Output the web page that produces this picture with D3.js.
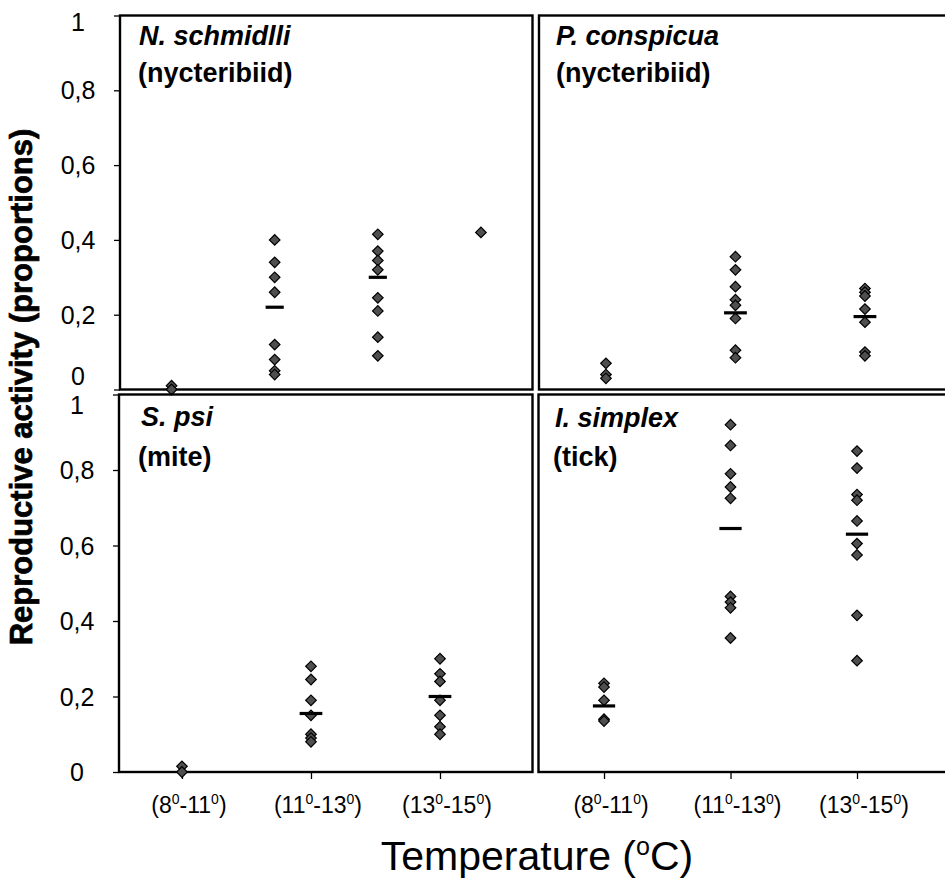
<!DOCTYPE html>
<meta charset="utf-8">
<script src="https://d3js.org/d3.v7.min.js"></script>
<style>
  body { margin: 0; background: #fff; }
  text { font-family: "Liberation Sans", Arial, sans-serif; }
</style>
<div id="chart"></div>
<script>

var w = 945
var h = 880

// temperature classes (lower, upper bound)
var tempRanges = [["8", "11"], ["11", "13"], ["13", "15"]]

var yTicks = [0, 0.2, 0.4, 0.6, 0.8, 1]

// proportions per temperature class
var nSchmidlli = [
  [0.01, 0.0],
  [0.40, 0.34, 0.30, 0.26, 0.12, 0.08, 0.05, 0.04],
  [0.415, 0.37, 0.345, 0.32, 0.245, 0.21, 0.14, 0.09],
  [0.42]
]
var nSchmidlliMeans = [null, 0.22, 0.30, null]

var pConspicua = [
  [0.07, 0.04, 0.03],
  [0.355, 0.32, 0.275, 0.24, 0.225, 0.19, 0.105, 0.085],
  [0.27, 0.26, 0.25, 0.215, 0.18, 0.10, 0.09]
]
var pConspicuaMeans = [null, 0.205, 0.195]

var sPsi = [
  [0.015, 0.0],
  [0.28, 0.245, 0.19, 0.15, 0.10, 0.09, 0.08],
  [0.30, 0.26, 0.24, 0.19, 0.15, 0.12, 0.10]
]
var sPsiMeans = [null, 0.155, 0.20]

var iSimplex = [
  [0.235, 0.225, 0.19, 0.14, 0.135],
  [0.92, 0.865, 0.79, 0.755, 0.725, 0.465, 0.45, 0.435, 0.355],
  [0.85, 0.805, 0.735, 0.72, 0.665, 0.605, 0.575, 0.415, 0.295]
]
var iSimplexMeans = [0.175, 0.645, 0.63]

// panel layout
var panels = [
  {values: nSchmidlli, means: nSchmidlliMeans, species: "N. schmidlli", group: "(nycteribiid)",
   x0: 120, x1: 532.5, y0: 15.5, y1: 389.5, xDom: [0.5, 4.5], left: true, bottom: false,
   t1: [139, 45], t2: [138, 82], shift: {0: -14, 1: 6}},
  {values: pConspicua, means: pConspicuaMeans, species: "P. conspicua", group: "(nycteribiid)",
   x0: 539, x1: 952.5, y0: 15.5, y1: 389.5, xDom: [0.483, 3.676], left: false, bottom: false,
   t1: [556, 45], t2: [556, 82]},
  {values: sPsi, means: sPsiMeans, species: "S. psi", group: "(mite)",
   x0: 119, x1: 532.5, y0: 394.5, y1: 772, xDom: [0.512, 3.717], left: true, bottom: true,
   t1: [141, 426], t2: [138, 466], shift: {1: 10}},
  {values: iSimplex, means: iSimplexMeans, species: "I. simplex", group: "(tick)",
   x0: 538.5, x1: 952, y0: 394.5, y1: 772, xDom: [0.482, 3.751], left: false, bottom: true,
   t1: [555, 427], t2: [553, 466]}
]

var svg = d3.select("#chart")
  .append("svg")
    .attr("width", w)
    .attr("height", h)
    .attr("font-family", "Liberation Sans, Arial, sans-serif")

var diamond = d3.symbol().type(d3.symbolSquare).size(56)

var fmt = d => d === 0 ? "0" : d === 1 ? "1" : String(d).replace(".", ",")

panels.forEach(function(p) {

  var x = d3.scaleLinear().domain(p.xDom).range([p.x0, p.x1])
  var y = d3.scaleLinear().domain([0, 1]).range([p.y1, p.y0])

  var g = svg.append("g")

  if (p.left) {
    var ax = g.append("g")
      .attr("transform", `translate(${p.x0},0)`)
      .call(d3.axisLeft(y).tickValues(yTicks).tickSize(6).tickFormat(fmt))
    ax.select(".domain").remove()
    ax.selectAll("line").attr("stroke", "#000").attr("stroke-width", 1.3)
    ax.selectAll("text")
      .attr("x", -42)
      .attr("text-anchor", "middle")
      .attr("font-size", "25px")
      .attr("font-family", "Liberation Sans, Arial, sans-serif")
      .attr("fill", "#000")
      .attr("dy", d => (p.shift && p.shift[d] != null) ? (p.shift[d] + 8.5) + "px" : "8.5px")
  }

  if (p.bottom) {
    var bx = g.append("g")
      .attr("transform", `translate(0,${p.y1})`)
      .call(d3.axisBottom(x).tickValues([1, 2, 3]).tickSize(7).tickFormat(""))
    bx.select(".domain").remove()
    bx.selectAll("line").attr("stroke", "#000").attr("stroke-width", 1.3)

    var lab = g.selectAll(".xlab")
      .data(tempRanges)
      .join("text")
        .attr("class", "xlab")
        .attr("x", (d, i) => x(i + 1) + 7)
        .attr("y", 813)
        .attr("text-anchor", "middle")
        .attr("font-size", "23px")
    lab.each(function(d) {
      var t = d3.select(this)
      t.append("tspan").text("(" + d[0])
      t.append("tspan").text("0").attr("font-size", "14px").attr("dy", "-9")
      t.append("tspan").text("-" + d[1]).attr("dy", "9")
      t.append("tspan").text("0").attr("font-size", "14px").attr("dy", "-9")
      t.append("tspan").text(")").attr("dy", "9")
    })
  }

  // panel frame
  g.append("rect")
    .attr("x", p.x0)
    .attr("y", p.y0)
    .attr("width", p.x1 - p.x0)
    .attr("height", p.y1 - p.y0)
    .attr("fill", "none")
    .attr("stroke", "#000")
    .attr("stroke-width", 2.4)

  var pts = []
  p.values.forEach((vals, i) => vals.forEach(v => pts.push({c: i + 1, v: v})))

  g.selectAll(".pt")
    .data(pts)
    .join("path")
      .attr("class", "pt")
      .attr("d", diamond)
      .attr("transform", d => `translate(${x(d.c)},${y(d.v)}) rotate(45)`)
      .attr("fill", "#4f4f4f")
      .attr("stroke", "#000")
      .attr("stroke-width", 1.2)

  var step = x(2) - x(1)
  g.selectAll(".mean")
    .data(p.means.map((m, i) => ({c: i + 1, m: m})).filter(d => d.m != null))
    .join("line")
      .attr("class", "mean")
      .attr("x1", d => x(d.c) - step * 0.088)
      .attr("x2", d => x(d.c) + step * 0.088)
      .attr("y1", d => y(d.m))
      .attr("y2", d => y(d.m))
      .attr("stroke", "#000")
      .attr("stroke-width", 3.2)

  g.append("text")
    .attr("x", p.t1[0])
    .attr("y", p.t1[1])
    .attr("font-size", "27px")
    .attr("font-weight", "bold")
    .attr("font-style", "italic")
    .text(p.species)

  g.append("text")
    .attr("x", p.t2[0])
    .attr("y", p.t2[1])
    .attr("font-size", "27px")
    .attr("font-weight", "bold")
    .text(p.group)
})

// axis titles
svg.append("text")
  .attr("transform", "rotate(-90)")
  .attr("x", -387)
  .attr("y", 32)
  .attr("text-anchor", "middle")
  .attr("font-size", "31px")
  .attr("font-weight", "bold")
  .attr("stroke", "#000")
  .attr("stroke-width", 0.7)
  .text("Reproductive activity (proportions)")

var xt = svg.append("text")
  .attr("x", 537)
  .attr("y", 870)
  .attr("text-anchor", "middle")
  .attr("font-size", "41px")
xt.append("tspan").text("Temperature (")
xt.append("tspan").text("o").attr("font-size", "25px").attr("dy", "-15")
xt.append("tspan").text("C)").attr("dy", "15")

</script>
